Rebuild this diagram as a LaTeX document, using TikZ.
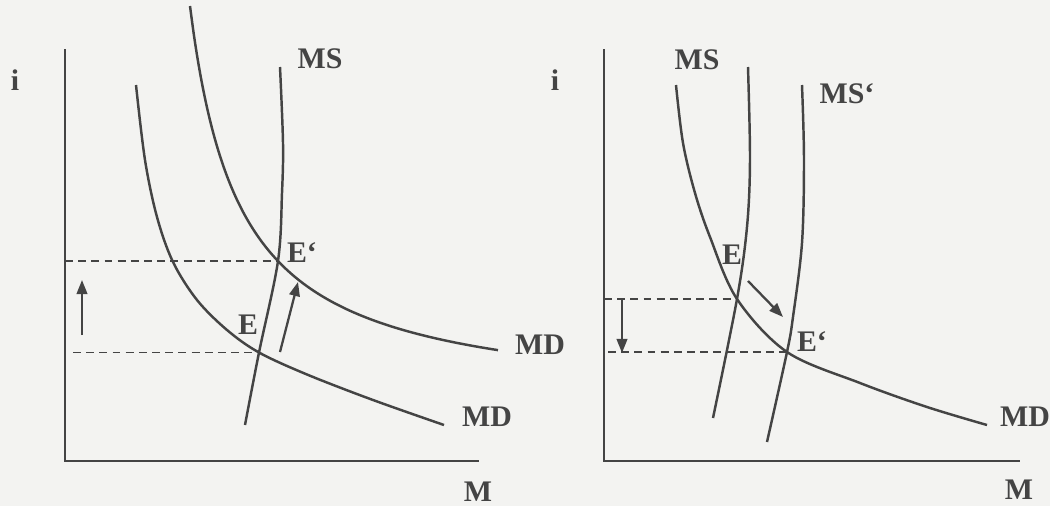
\documentclass[tikz,border=0pt]{standalone}
\usepackage{fontspec}
\setmainfont{Liberation Serif}
\usetikzlibrary{arrows.meta}
\definecolor{ink}{RGB}{68,68,68}
\definecolor{paper}{RGB}{243,243,241}
\tikzset{axis/.style={line width=1.4pt, ink}}
\tikzset{curve/.style={line width=1.4pt, ink, smooth, tension=0.55}}
\tikzset{guide/.style={dash pattern=on 4.5pt off 3pt, line width=1pt, ink}}
\tikzset{movearrow/.style={-{Triangle[length=8pt,width=6pt]}, line width=1.3pt, ink}}

\begin{document}
\begin{tikzpicture}[every node/.style={font=\bfseries\fontsize{17}{20}\selectfont, text=ink}]
    \fill[paper] (0,0) rectangle (21,10.12);
    \useasboundingbox (0,0) rectangle (21,10.12);

    % ---- left panel: demand rises ----
    % Axes
    \coordinate (O1) at (1.30,0.90);
    \coordinate (Y1) at (1.30,9.14);
    \coordinate (X1) at (9.58,0.90);
    \draw[axis] (Y1) -- (O1) -- (X1);
    \node (i1) at (0.30,8.52) {i};
    \node (M1) at (9.56,0.28) {M};

    % Equilibria
    \coordinate (E1) at (5.18,3.07);
    \coordinate (F1) at (5.56,4.90);

    % Curves
    \draw[curve] plot coordinates {(5.60,8.78) (5.66,7.26) (5.64,6.26) (F1) (E1) (4.90,1.62)};
    \draw[curve, domain=3.80:9.96, samples=80] plot (\x, {2.0+8.0/(\x-2.8)});
    \draw[curve] plot coordinates {(2.72,8.42) (2.90,6.92) (3.14,5.78) (3.46,4.88) (3.94,4.12) (4.54,3.52) (E1) (6.14,2.63) (7.46,2.12) (8.88,1.62)};
    \node (MS1) at (6.40,8.94) {MS};
    \node (MDa) at (10.80,3.22) {MD};
    \node (MDb) at (9.74,1.78) {MD};
    \node (E1l) at (4.96,3.62) {E};
    \node (F1l) at (6.04,5.06) {E‘};

    % Levels and shifts
    \coordinate (L1) at (1.46,3.07);
    \draw[guide] (O1 |- F1) -- (F1);
    \draw[guide] (L1) -- (E1);
    \coordinate (a1) at (1.64,3.42);
    \coordinate (b1) at (1.64,4.52);
    \draw[movearrow] (a1) -- (b1);
    \coordinate (c1) at (5.60,3.08);
    \coordinate (d1) at (5.96,4.48);
    \draw[movearrow] (c1) -- (d1);

    % ---- right panel: supply rises ----
    % Axes
    \coordinate (O2) at (12.08,0.90);
    \coordinate (Y2) at (12.08,9.14);
    \coordinate (X2) at (20.40,0.90);
    \draw[axis] (Y2) -- (O2) -- (X2);
    \node (i2) at (11.10,8.52) {i};
    \node (M2) at (20.38,0.32) {M};

    % Equilibria
    \coordinate (E2) at (14.74,4.14);
    \coordinate (F2) at (15.74,3.08);

    % Curves
    \draw[curve] plot coordinates {(14.96,8.78) (15.00,6.92) (14.94,5.58) (E2) (14.26,1.76)};
    \draw[curve] plot coordinates {(16.04,8.42) (16.08,6.92) (16.04,5.26) (15.86,3.78) (F2) (15.34,1.28)};
    \draw[curve] plot coordinates {(13.52,8.42) (13.66,7.26) (13.90,6.26) (14.20,5.38) (E2) (F2) (17.20,2.46) (18.54,1.98) (19.74,1.62)};
    \node (MS2) at (13.94,8.92) {MS};
    \node (MS2p) at (16.94,8.24) {MS‘};
    \node (MDc) at (20.50,1.78) {MD};
    \node (E2l) at (14.64,5.02) {E};
    \node (F2l) at (16.24,3.28) {E‘};

    % Levels and shifts
    \coordinate (L2) at (12.16,3.08);
    \draw[guide] (O2 |- E2) -- (E2);
    \draw[guide] (L2) -- (F2);
    \coordinate (a2) at (12.44,4.14);
    \coordinate (b2) at (12.44,3.06);
    \draw[movearrow] (a2) -- (b2);
    \coordinate (c2) at (14.96,4.50);
    \coordinate (d2) at (15.66,3.78);
    \draw[movearrow] (c2) -- (d2);
\end{tikzpicture}
\end{document}
